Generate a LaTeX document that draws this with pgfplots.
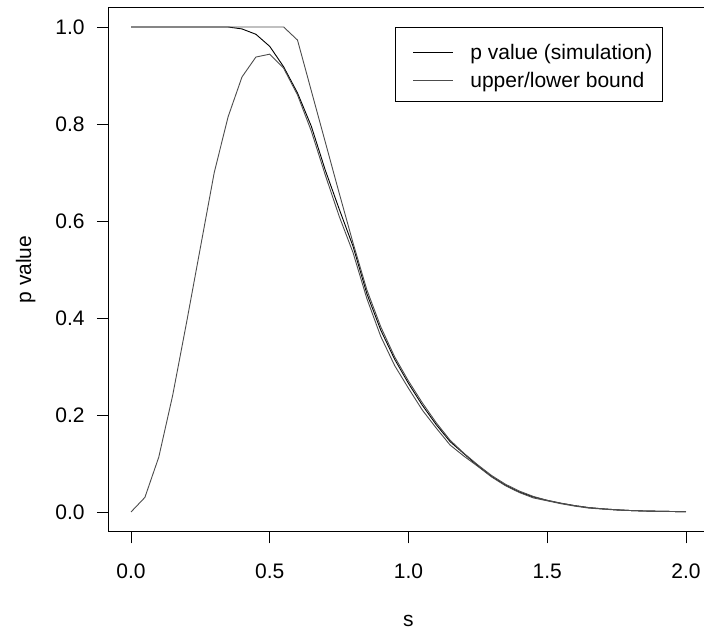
\documentclass[border=0pt]{standalone}
\usepackage{fontspec}
\setmainfont{Liberation Sans}
\usepackage{pgfplots}
\pgfplotsset{compat=1.18}
\usepackage{pgfplotstable}

\pgfplotstableread{
s sim up lo
0.00 1.000 1.000 0.000
0.05 1.000 1.000 0.030
0.10 1.000 1.000 0.113
0.15 1.000 1.000 0.240
0.20 1.000 1.000 0.390
0.25 1.000 1.000 0.545
0.30 1.000 1.000 0.700
0.35 1.000 1.000 0.815
0.40 0.996 1.000 0.897
0.45 0.985 1.000 0.938
0.50 0.960 1.000 0.944
0.55 0.918 1.000 0.915
0.60 0.864 0.973 0.860
0.65 0.795 0.868 0.785
0.70 0.705 0.763 0.695
0.75 0.625 0.658 0.610
0.80 0.548 0.555 0.535
0.85 0.450 0.458 0.440
0.90 0.375 0.382 0.362
0.95 0.315 0.320 0.302
1.00 0.265 0.270 0.255
1.05 0.220 0.225 0.210
1.10 0.180 0.184 0.173
1.15 0.145 0.148 0.138
1.20 0.120 0.121 0.115
1.25 0.095 0.097 0.094
1.30 0.073 0.075 0.072
1.35 0.055 0.057 0.054
1.40 0.041 0.043 0.040
1.45 0.031 0.032 0.029
1.50 0.024 0.024 0.023
1.55 0.018 0.018 0.017
1.60 0.013 0.013 0.012
1.65 0.009 0.009 0.008
1.70 0.0065 0.0065 0.006
1.75 0.0045 0.0045 0.004
1.80 0.003 0.003 0.003
1.85 0.002 0.002 0.002
1.90 0.0015 0.0015 0.0015
1.95 0.001 0.001 0.001
2.00 0.0005 0.0005 0.0005
}\pvals

\begin{document}
\begin{tikzpicture}
\begin{axis}[
  x=277.5pt, y=485pt,
  xmin=-0.08, xmax=2.08, ymin=-0.04, ymax=1.04,
  axis line style={line width=0.9pt},
  tick align=outside,
  xtick pos=bottom, ytick pos=left,
  major tick length=12pt,
  every tick/.style={black, line width=0.9pt},
  xtick={0,0.5,1,1.5,2},
  ytick={0,0.2,0.4,0.6,0.8,1},
  /pgf/number format/.cd, fixed, fixed zerofill, precision=1, assume math mode=true,
  /pgfplots/.cd,
  tick label style={font=\fontsize{21}{25}\selectfont, inner sep=0pt},
  xticklabel style={anchor=base, yshift=-35pt},
  yticklabel style={anchor=east, xshift=-12pt},
  label style={font=\fontsize{21}{25}\selectfont, inner sep=0pt},
  xlabel={s}, ylabel={p value},
  xlabel style={at={(axis cs:1,-0.236)}, anchor=base},
  ylabel style={at={(axis cs:-0.36,0.5)}, anchor=base},
  legend style={at={(axis cs:0.951,1)}, anchor=north west, draw=black, line width=0.9pt,
    font=\fontsize{21}{25}\selectfont, inner xsep=10pt, inner ysep=9pt,
    row sep=0.1pt, column sep=0pt,
    nodes={inner sep=0pt, text height=23.5pt, text depth=4.4pt, anchor=base west}},
  legend cell align=left,
  legend image code/.code={\draw[#1] (8pt,7.5pt) -- (48pt,7.5pt);\path[draw=none] (0pt,7.5pt) -- (65pt,7.5pt);},
]
\addplot[black, line width=0.9pt] table[x=s, y=sim] {\pvals};
\addlegendentry{p value (simulation)}
\addplot[black!70, line width=0.9pt] table[x=s, y=up] {\pvals};
\addlegendentry{upper/lower bound}
\addplot[black!70, line width=0.9pt, forget plot] table[x=s, y=lo] {\pvals};
\coordinate (bl) at (axis cs:-0.4721,-0.24948);
\coordinate (tr) at (axis cs:2.0649,1.05567);
\end{axis}
\pgfresetboundingbox
\path[use as bounding box] (bl) rectangle (tr);
\end{tikzpicture}
\end{document}
